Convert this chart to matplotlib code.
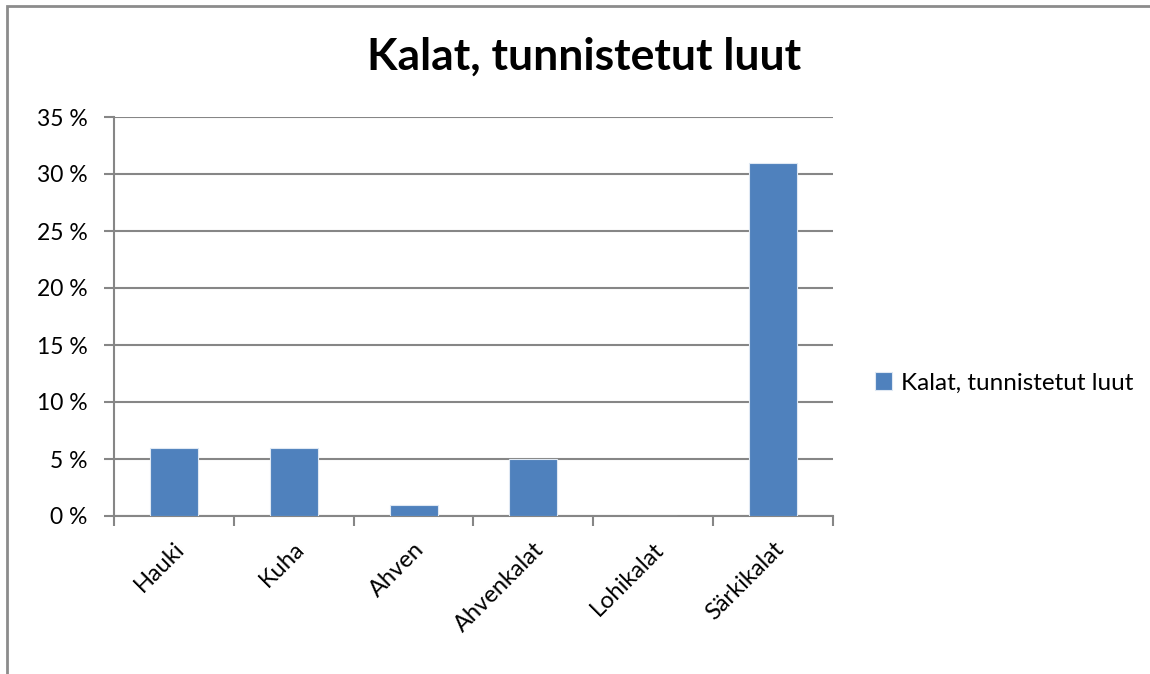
import matplotlib
matplotlib.use("Agg")
import matplotlib.pyplot as plt
from matplotlib.patches import Rectangle
from matplotlib.ticker import FuncFormatter, MultipleLocator

categories = ["Hauki", "Kuha", "Ahven", "Ahvenkalat", "Lohikalat", "Särkikalat"]
values = [6, 6, 1, 5, 0, 31]
series_name = "Kalat, tunnistetut luut"
title = "Kalat, tunnistetut luut"

bar_color = "#4F81BD"
grid_color = "#868686"
font = ["Lato", "DejaVu Sans"]

plt.rcParams["font.family"] = font

fig = plt.figure(figsize=(11.5, 6.74), dpi=100)
ax = fig.add_axes([114 / 1150, 1 - 516 / 674, (833 - 114) / 1150, (516 - 117) / 674])

x = list(range(len(categories)))
ax.bar(x, values, width=0.4, color=bar_color, edgecolor="#dfe8f3", linewidth=0.8,
       label=series_name, zorder=3)

ax.set_xlim(-0.5, len(categories) - 0.5)
ax.set_ylim(0, 35)
ax.yaxis.set_major_locator(MultipleLocator(5))
ax.yaxis.set_major_formatter(FuncFormatter(lambda v, p: f"{int(v)} %"))
ax.grid(axis="y", color=grid_color, linewidth=1.5, zorder=0)

for side in ["top", "right"]:
    ax.spines[side].set_visible(False)
for side in ["left", "bottom"]:
    ax.spines[side].set_color(grid_color)
    ax.spines[side].set_linewidth(1.5)

ax.tick_params(axis="y", length=7, width=1.5, color=grid_color, labelsize=16.5, pad=12,
               labelcolor="black")
ax.set_xticks([i - 0.5 for i in range(len(categories) + 1)], minor=False)
ax.set_xticklabels([])
ax.tick_params(axis="x", which="major", length=7, width=1.5, color=grid_color)
ax.set_xticks(x, minor=True)
ax.set_xticklabels(categories, minor=True, rotation=45, ha="right",
                   rotation_mode="anchor", fontsize=17)
ax.tick_params(axis="x", which="minor", length=0, pad=16)

fig.text(0.508, 1 - 57 / 674, title, ha="center", va="center", fontsize=32,
         fontweight="bold")

leg = fig.legend(loc="center left", bbox_to_anchor=(853 / 1150, 1 - 383 / 674),
                 frameon=False, fontsize=17.5, handlelength=0.72, handleheight=0.72,
                 handletextpad=0.35)

# chart border
fig.add_artist(Rectangle((7 / 1150, -0.05), 1.2, 1 - 5.5 / 674 + 0.05,
                         transform=fig.transFigure, fill=False,
                         edgecolor="#8c8c8c", linewidth=2))

fig.savefig("out.png", dpi=100, facecolor="white")
